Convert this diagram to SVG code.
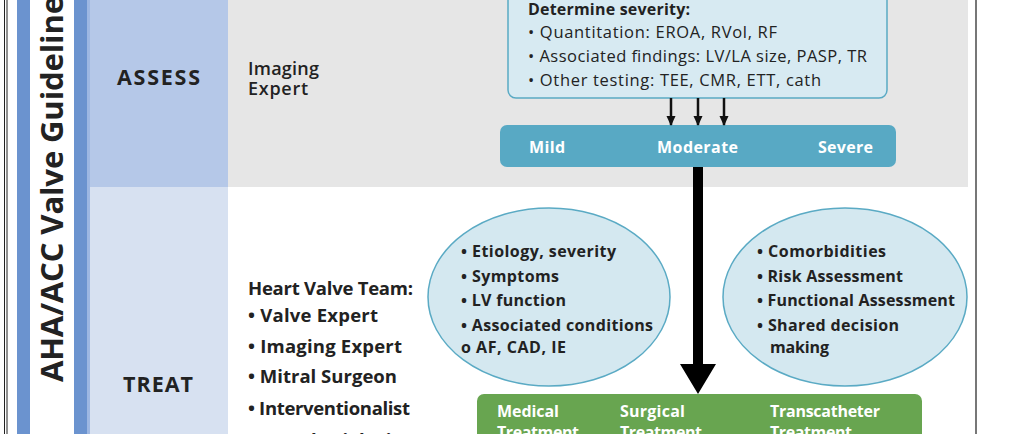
<svg xmlns="http://www.w3.org/2000/svg" width="1024" height="434" viewBox="0 0 1024 434">
<defs>
<style>
.t{font-family:"Open Sans",Lato,"Liberation Sans",sans-serif;fill:#222}
.b{font-weight:bold}
.s{font-weight:600}
.w{fill:#fff;font-weight:bold}
.ell{fill:#d4e8f0;stroke:#5aaac4;stroke-width:1.5}
</style>
<marker id="ah" markerWidth="10" markerHeight="10" refX="9" refY="5" orient="auto" markerUnits="userSpaceOnUse" viewBox="0 0 10 10">
<path d="M0,0.5 L10,5 L0,9.5 Z" fill="#111"/>
</marker>
</defs>
<rect width="1024" height="434" fill="#fff"/>
<g id="frame">
<line x1="4.5" y1="0" x2="4.5" y2="434" stroke="#222" stroke-width="1"/>
<line x1="7" y1="0" x2="7" y2="434" stroke="#222" stroke-width="1"/>
<rect x="17" y="0" width="13" height="434" fill="#6b93cf"/>
<rect x="74" y="0" width="13" height="434" fill="#6b93cf"/>
<rect x="87" y="0" width="3" height="434" fill="#9db7e2"/>
<rect x="90" y="0" width="138" height="187" fill="#b5c8e8"/>
<rect x="90" y="187" width="138" height="247" fill="#d7e1f1"/>
<rect x="228" y="0" width="740" height="187" fill="#e6e6e6"/>
<line x1="976" y1="0" x2="976" y2="434" stroke="#777" stroke-width="2"/>
<text class="t b" transform="translate(63,382) rotate(-90)" font-size="31" textLength="386">AHA/ACC Valve Guideline</text>
</g>
<g id="assess-label"><text class="t b" x="117" y="85" font-size="21.5" textLength="83">ASSESS</text></g>
<g id="treat-label"><text class="t b" x="123" y="392" font-size="21.5" textLength="70">TREAT</text></g>
<g id="imaging-expert">
<text class="t s" x="248" y="75" font-size="18" textLength="71">Imaging</text>
<text class="t s" x="248" y="95" font-size="18" textLength="60">Expert</text>
</g>
<g id="severity-box">
<rect x="508" y="-20" width="379" height="118" rx="8" fill="#d7eaf2" stroke="#5aaac4" stroke-width="1.5"/>
<text class="t b" x="528" y="15" font-size="16" textLength="162">Determine severity:</text>
<text class="t" x="528" y="38" font-size="16.5" textLength="249">• Quantitation: EROA, RVol, RF</text>
<text class="t" x="528" y="62" font-size="16.5" textLength="339">• Associated findings: LV/LA size, PASP, TR</text>
<text class="t" x="528" y="86" font-size="16.5" textLength="293">• Other testing: TEE, CMR, ETT, cath</text>
</g>
<g id="severity-bar">
<rect x="500" y="125" width="396" height="42" rx="7" fill="#58a9c4"/>
<text class="t w" x="529" y="153" font-size="16" textLength="36">Mild</text>
<text class="t w" x="657" y="153" font-size="16" textLength="81">Moderate</text>
<text class="t w" x="818" y="153" font-size="16" textLength="55">Severe</text>
</g>
<g id="team">
<text class="t b" x="248" y="295" font-size="18.5" textLength="165">Heart Valve Team:</text>
<text class="t b" x="248" y="322" font-size="18.5" textLength="130">• Valve Expert</text>
<text class="t b" x="248" y="353" font-size="18.5" textLength="154">• Imaging Expert</text>
<text class="t b" x="248" y="383" font-size="18.5" textLength="149">• Mitral Surgeon</text>
<text class="t b" x="248" y="415" font-size="18.5" textLength="162">• Interventionalist</text>
<text class="t b" x="248" y="447" font-size="18.5" textLength="160">• Anesthesiologist</text>
</g>
<g id="patient-ellipse">
<ellipse class="ell" cx="549" cy="297" rx="121" ry="89"/>
<text class="t b" x="461" y="257" font-size="16" textLength="155">• Etiology, severity</text>
<text class="t b" x="461" y="282" font-size="16" textLength="98">• Symptoms</text>
<text class="t b" x="461" y="306" font-size="16" textLength="105">• LV function</text>
<text class="t b" x="461" y="331" font-size="16" textLength="192">• Associated conditions</text>
<text class="t b" x="461" y="353" font-size="16" textLength="105">o AF, CAD, IE</text>
</g>
<g id="risk-ellipse">
<ellipse class="ell" cx="845" cy="297" rx="122" ry="89"/>
<text class="t b" x="757" y="257" font-size="16" textLength="129">• Comorbidities</text>
<text class="t b" x="757" y="282" font-size="16" textLength="146">• Risk Assessment</text>
<text class="t b" x="757" y="306" font-size="16" textLength="198">• Functional Assessment</text>
<text class="t b" x="757" y="331" font-size="16" textLength="142">• Shared decision</text>
<text class="t b" x="770" y="353" font-size="16" textLength="59">making</text>
</g>
<g id="treatment-box">
<rect x="477" y="394" width="445" height="60" rx="7" fill="#68a550"/>
<text class="t w" x="497" y="417" font-size="16" textLength="62">Medical</text>
<text class="t w" x="497" y="438" font-size="16" textLength="82">Treatment</text>
<text class="t w" x="620" y="417" font-size="16" textLength="65">Surgical</text>
<text class="t w" x="620" y="438" font-size="16" textLength="82">Treatment</text>
<text class="t w" x="770" y="417" font-size="16" textLength="110">Transcatheter</text>
<text class="t w" x="770" y="438" font-size="16" textLength="82">Treatment</text>
</g>
<g id="connectors">
<line x1="671" y1="98" x2="671" y2="125" stroke="#111" stroke-width="2.5" marker-end="url(#ah)"/>
<line x1="698" y1="98" x2="698" y2="125" stroke="#111" stroke-width="2.5" marker-end="url(#ah)"/>
<line x1="724" y1="98" x2="724" y2="125" stroke="#111" stroke-width="2.5" marker-end="url(#ah)"/>
<path d="M693,167 L703,167 L703,364 L716,364 L698,394 L680,364 L693,364 Z" fill="#000"/>
</g>
</svg>
